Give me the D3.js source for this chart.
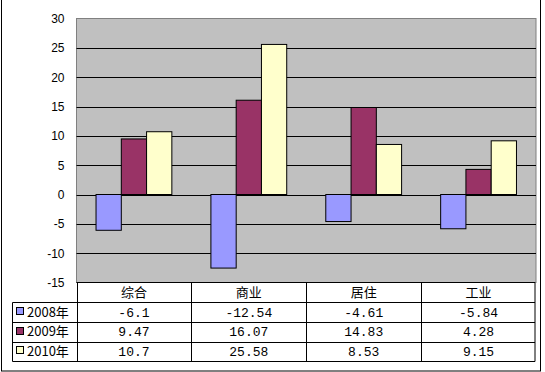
<!DOCTYPE html>
<html>
<head>
<meta charset="utf-8">
<script src="https://cdn.jsdelivr.net/npm/d3@7"></script>
<style>
	body { margin: 0; background: #fff; }
	svg { display: block; }
</style>
</head>
<body>
<svg class="chart"></svg>
<script>
// data
var categories = [ "综合", "商业", "居住", "工业" ];
var seriesNames = [ "2008年", "2009年", "2010年" ];
var values2008 = [ -6.1, -12.54, -4.61, -5.84 ];
var values2009 = [ 9.47, 16.07, 14.83, 4.28 ];
var values2010 = [ 10.7, 25.58, 8.53, 9.15 ];
var valueLabels2008 = [ "-6.1", "-12.54", "-4.61", "-5.84" ];
var valueLabels2009 = [ "9.47", "16.07", "14.83", "4.28" ];
var valueLabels2010 = [ "10.7", "25.58", "8.53", "9.15" ];
var yTicks = [ -15, -10, -5, 0, 5, 10, 15, 20, 25, 30 ];
var colors = [ "#9999ff", "#993366", "#ffffcc" ];

var seriesValues = [ values2008, values2009, values2010 ];
var seriesLabels = [ valueLabels2008, valueLabels2009, valueLabels2010 ];

var svgWidth = 545,
	svgHeight = 372;

var chart = d3.select( ".chart" )
	.attr( "width", svgWidth )
	.attr( "height", svgHeight );

var plotLeft = 76.5,
	plotRight = 536,
	plotTop = 18.5,
	plotBottom = 282.5,
	tableLeft = 12.5,
	rowH = 19.7;

// outer frame
chart.append( "rect" )
	.attr( "x", 1.5 ).attr( "y", -1 )
	.attr( "width", 539 ).attr( "height", 372 )
	.attr( "fill", "none" ).attr( "stroke", "#000" );

var x = d3.scaleBand()
	.domain( categories )
	.range( [ plotLeft, plotRight ] );

var bw = x.bandwidth();

var x1 = d3.scaleBand()
	.domain( d3.range( seriesNames.length ) )
	.range( [ bw * 0.17, bw * 0.83 ] );

var y = d3.scaleLinear()
	.domain( [ -15, 30 ] )
	.range( [ plotBottom, plotTop ] );

// plot background
chart.append( "rect" )
	.attr( "x", plotLeft ).attr( "y", plotTop )
	.attr( "width", plotRight - plotLeft ).attr( "height", plotBottom - plotTop )
	.attr( "fill", "#c0c0c0" )
	.attr( "stroke", "#808080" );

// gridlines
chart.append( "g" )
	.selectAll( "line" )
	.data( yTicks.filter( function(d) { return d > -15 && d < 30; } ) )
	.enter()
	.append( "line" )
	.attr( "x1", plotLeft ).attr( "x2", plotRight )
	.attr( "y1", function(d) { return Math.round( y(d) ) + 0.5; } )
	.attr( "y2", function(d) { return Math.round( y(d) ) + 0.5; } )
	.attr( "stroke", "#000" );

// y axis labels
var yAxis = d3.axisLeft( y )
	.tickValues( yTicks )
	.tickSize( 0 )
	.tickPadding( 12 )
	.tickFormat( function(d) { return d < 0 ? "-" + Math.abs( d ) : d; } );

chart.append( "g" )
	.attr( "transform", "translate(" + plotLeft + ",0)" )
	.call( yAxis )
	.call( function(g) { g.select( ".domain" ).remove(); } )
	.selectAll( "text" )
	.attr( "font-family", "Arial, 'Liberation Sans', sans-serif" )
	.attr( "font-size", 12 )
	.attr( "fill", "#000" );

// bars
var groups = chart.append( "g" )
	.selectAll( "g" )
	.data( categories )
	.enter()
	.append( "g" )
	.attr( "transform", function(d) { return "translate(" + x(d) + ",0)"; } );

groups.selectAll( "rect" )
	.data( function(d, i) {
		return seriesValues.map( function(s, j) { return { s: j, v: s[i] }; } );
	} )
	.enter()
	.append( "rect" )
	.attr( "x", function(d) { return x1( d.s ); } )
	.attr( "y", function(d) { return Math.min( y( d.v ), y(0) ); } )
	.attr( "width", x1.bandwidth() )
	.attr( "height", function(d) { return Math.abs( y( d.v ) - y(0) ); } )
	.attr( "fill", function(d) { return colors[ d.s ]; } )
	.attr( "stroke", "#000" )
	.attr( "stroke-width", 1 );

// data table
var table = chart.append( "g" );
var tableBottom = plotBottom + rowH * 4;

// horizontal lines
for( var r = 1; r <= 4; r++ ) {
	var yy = Math.round( plotBottom + rowH * r ) + 0.5;
	table.append( "line" )
		.attr( "x1", tableLeft ).attr( "x2", plotRight - 1 )
		.attr( "y1", yy ).attr( "y2", yy )
		.attr( "stroke", "#000" );
}
table.append( "line" )
	.attr( "x1", plotLeft ).attr( "x2", plotRight - 1 )
	.attr( "y1", plotBottom ).attr( "y2", plotBottom )
	.attr( "stroke", "#000" );

// vertical lines
table.append( "line" )
	.attr( "x1", tableLeft ).attr( "x2", tableLeft )
	.attr( "y1", Math.round( plotBottom + rowH ) + 0.5 ).attr( "y2", Math.round( tableBottom ) + 0.5 )
	.attr( "stroke", "#000" );

table.selectAll( ".vline" )
	.data( categories.concat( [ "end" ] ) )
	.enter()
	.append( "line" )
	.attr( "x1", function(d) { return d === "end" ? plotRight - 1 : Math.round( x(d) ) + 0.5; } )
	.attr( "x2", function(d) { return d === "end" ? plotRight - 1 : Math.round( x(d) ) + 0.5; } )
	.attr( "y1", plotBottom )
	.attr( "y2", Math.round( tableBottom ) + 0.5 )
	.attr( "stroke", "#000" );

// category header
table.selectAll( ".cat" )
	.data( categories )
	.enter()
	.append( "text" )
	.attr( "x", function(d) { return x(d) + bw / 2; } )
	.attr( "y", plotBottom + rowH / 2 )
	.attr( "dy", "0.36em" )
	.attr( "text-anchor", "middle" )
	.attr( "font-family", "'Noto Sans CJK SC', sans-serif" )
	.attr( "font-size", 13 )
	.text( function(d) { return d; } );

// rows
seriesNames.forEach( function( name, j ) {
	var cy = plotBottom + rowH * ( j + 1 ) + rowH / 2;

	table.append( "rect" )
		.attr( "x", 16.5 ).attr( "y", Math.round( cy ) - 4.5 )
		.attr( "width", 7 ).attr( "height", 7 )
		.attr( "fill", colors[j] )
		.attr( "stroke", "#000" );

	table.append( "text" )
		.attr( "x", 27 )
		.attr( "y", cy )
		.attr( "dy", "0.36em" )
		.attr( "font-family", "'Noto Sans CJK SC', sans-serif" )
		.attr( "font-size", 13 )
		.text( name );

	table.selectAll( ".val" + j )
		.data( categories )
		.enter()
		.append( "text" )
		.attr( "x", function(d) { return x(d) + bw / 2; } )
		.attr( "y", cy )
		.attr( "dy", "0.36em" )
		.attr( "text-anchor", "middle" )
		.attr( "font-family", "'Liberation Mono', 'DejaVu Sans Mono', monospace" )
		.attr( "font-size", 13 )
		.text( function(d, i) { return seriesLabels[j][i]; } );
} );
</script>
</body>
</html>
